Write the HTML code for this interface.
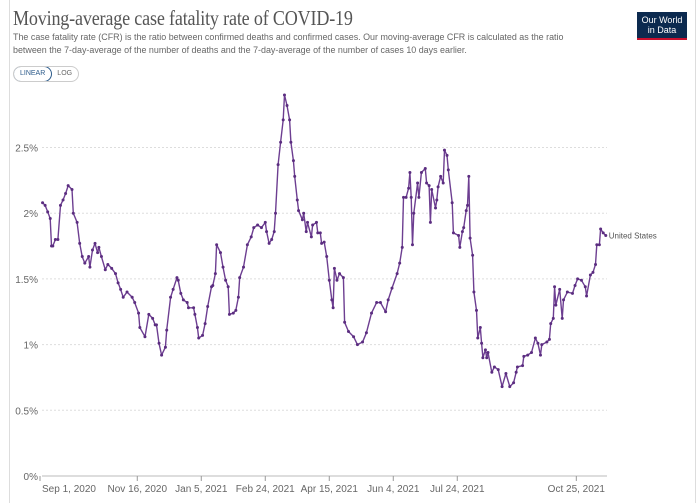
<!DOCTYPE html>
<html><head><meta charset="utf-8">
<style>
body{margin:0;background:#fff;width:700px;height:503px;overflow:hidden;font-family:"Liberation Sans",sans-serif;}
.card{position:absolute;left:9px;top:0;width:685px;height:503px;border-left:1px solid #ddd;border-right:1px solid #ddd;}
.title{position:absolute;left:13px;top:6px;font-family:"Liberation Serif",serif;font-size:21px;color:#555;letter-spacing:-0.2px;white-space:nowrap;transform:scaleX(0.86);transform-origin:left top;}
.sub{position:absolute;left:13px;top:32px;font-size:9.6px;color:#666;line-height:12.5px;white-space:nowrap;transform:scaleX(0.93);transform-origin:left top;}
.logo{position:absolute;left:637px;top:12px;width:50px;height:28px;background:#0c2a4f;color:#fff;font-size:9px;line-height:10px;text-align:center;padding-top:3px;box-sizing:border-box;border-bottom:2px solid #c8102e;}
.toggle{position:absolute;left:13px;top:66px;height:14px;border:1px solid #ccc;border-radius:8px;font-size:7px;color:#666;display:flex;overflow:hidden;}
.toggle span{padding:3px 6px 0 6px;}
.toggle .on{border:1px solid #2b5a8a;border-radius:8px;color:#2b5a8a;margin:-1px;}
</style></head><body>
<div class="card"></div>
<div class="title">Moving-average case fatality rate of COVID-19</div>
<div class="sub">The case fatality rate (CFR) is the ratio between confirmed deaths and confirmed cases. Our moving-average CFR is calculated as the ratio<br>between the 7-day-average of the number of deaths and the 7-day-average of the number of cases 10 days earlier.</div>
<div class="logo">Our World<br>in Data</div>
<div class="toggle"><span class="on">LINEAR</span><span>LOG</span></div>
<svg id="chart" width="700" height="503" style="position:absolute;left:0;top:0"></svg>
<script>
const days=[2,4,6,8,9,10,12,14,16,18,20,22,25,26,29,31,33,35,38,39,41,43,45,46,48,51,53,56,59,61,63,65,68,72,74,77,78,82,85,88,90,91,93,95,98,99,102,104,107,108,110,112,115,116,120,121,123,124,127,129,131,134,135,137,138,141,143,145,147,148,151,153,155,156,159,162,165,167,170,173,176,177,179,181,183,184,186,188,190,191,193,195,196,198,199,201,202,205,206,208,209,212,213,216,217,219,220,222,224,226,228,229,230,232,234,237,238,241,245,248,252,255,259,263,266,270,272,275,279,281,283,284,286,288,289,290,291,292,295,296,298,301,302,304,305,306,309,310,311,313,315,316,318,319,322,323,327,328,330,331,333,334,335,336,338,339,341,342,344,345,346,348,349,350,353,355,358,361,364,367,370,372,373,377,378,381,384,387,389,391,392,396,398,399,401,402,403,406,408,409,412,416,418,420,423,426,427,430,432,434,435,437,438,440,442];
const cfr=[2.08,2.06,2.01,1.96,1.75,1.75,1.80,1.80,2.06,2.10,2.15,2.21,2.18,2.00,1.93,1.77,1.67,1.62,1.67,1.59,1.72,1.77,1.70,1.74,1.67,1.57,1.61,1.58,1.54,1.47,1.42,1.36,1.40,1.36,1.32,1.24,1.13,1.06,1.23,1.20,1.15,1.15,1.01,0.92,0.98,1.11,1.36,1.42,1.51,1.49,1.39,1.34,1.32,1.28,1.28,1.23,1.13,1.05,1.07,1.16,1.29,1.44,1.45,1.54,1.76,1.70,1.59,1.49,1.44,1.23,1.24,1.26,1.36,1.51,1.59,1.76,1.82,1.89,1.91,1.89,1.93,1.86,1.77,1.80,1.86,2.00,2.37,2.54,2.71,2.90,2.82,2.71,2.54,2.40,2.28,2.10,2.02,1.95,2.00,1.86,1.93,1.82,1.91,1.93,1.85,1.85,1.77,1.78,1.67,1.49,1.34,1.28,1.58,1.49,1.54,1.51,1.17,1.10,1.06,1.00,1.02,1.09,1.24,1.32,1.32,1.25,1.34,1.43,1.54,1.62,1.74,2.12,2.12,2.19,2.31,2.12,1.76,2.00,2.23,2.12,2.31,2.34,2.23,2.21,1.93,2.18,2.04,2.10,2.20,2.28,2.23,2.48,2.44,2.33,2.08,1.85,1.83,1.74,1.86,1.89,2.02,2.06,2.28,1.81,1.68,1.40,1.26,1.05,1.13,1.01,0.90,0.96,0.90,0.94,0.79,0.83,0.81,0.68,0.78,0.68,0.71,0.79,0.83,0.84,0.91,0.92,0.94,1.05,1.01,0.92,1.00,1.02,1.04,1.16,1.20,1.44,1.30,1.42,1.20,1.34,1.40,1.39,1.45,1.50,1.49,1.44,1.37,1.53,1.55,1.61,1.76,1.76,1.88,1.85,1.83];
const yTicks=[0,0.5,1,1.5,2,2.5];
const yTickLabels=["0%","0.5%","1%","1.5%","2%","2.5%"];
const xTickDays=[0,76,126,176,226,276,326,419];
const xTickLabels=["Sep 1, 2020","Nov 16, 2020","Jan 5, 2021","Feb 24, 2021","Apr 15, 2021","Jun 4, 2021","Jul 24, 2021","Oct 25, 2021"];
const seriesName="United States";

const svg=document.getElementById('chart');
const NS='http://www.w3.org/2000/svg';
const X=d=>40+d*1.28;
const Y=v=>476-v*131.4;
function mk(tag,attrs){const e=document.createElementNS(NS,tag);for(const k in attrs)e.setAttribute(k,attrs[k]);svg.appendChild(e);return e;}
yTicks.forEach((t,i)=>{
  const l=mk('line',{x1:42,x2:607,y1:Y(t),y2:Y(t),stroke:t===0?'#bbb':'#ddd','stroke-dasharray':t===0?'':'2,2','stroke-width':1});
  
  
  const tx=mk('text',{x:38,y:Y(t)+4,'text-anchor':'end','font-size':10,fill:'#666','font-family':'Liberation Sans, sans-serif'});
  tx.textContent=yTickLabels[i];
  
  
});
xTickDays.forEach((d,i)=>{
  const tk=mk('line',{x1:X(d),x2:X(d),y1:476,y2:481,stroke:'#999'});
  
  
  const tx=mk('text',{x:i===0?X(d)+2:X(d),y:492,'text-anchor':i===0?'start':'middle','font-size':10,fill:'#666','font-family':'Liberation Sans, sans-serif'});
  tx.textContent=xTickLabels[i];
  
  
});
const pts=days.map((d,i)=>X(d).toFixed(1)+','+Y(cfr[i]).toFixed(1)).join(' ');
const line=mk('polyline',{points:pts,fill:'none',stroke:'#6d3e91','stroke-width':1.4,'stroke-linejoin':'round'});


days.forEach((d,i)=>{
  const c=mk('circle',{cx:X(d),cy:Y(cfr[i]),r:1.5,fill:'#5b2d80'});
  
  
});
const last=days.length-1;
const lab=mk('text',{x:X(days[last])+3,y:Y(cfr[last])+3,'font-size':8,fill:'#555','font-family':'Liberation Sans, sans-serif'});
lab.textContent=seriesName;


</script>
</body></html>
